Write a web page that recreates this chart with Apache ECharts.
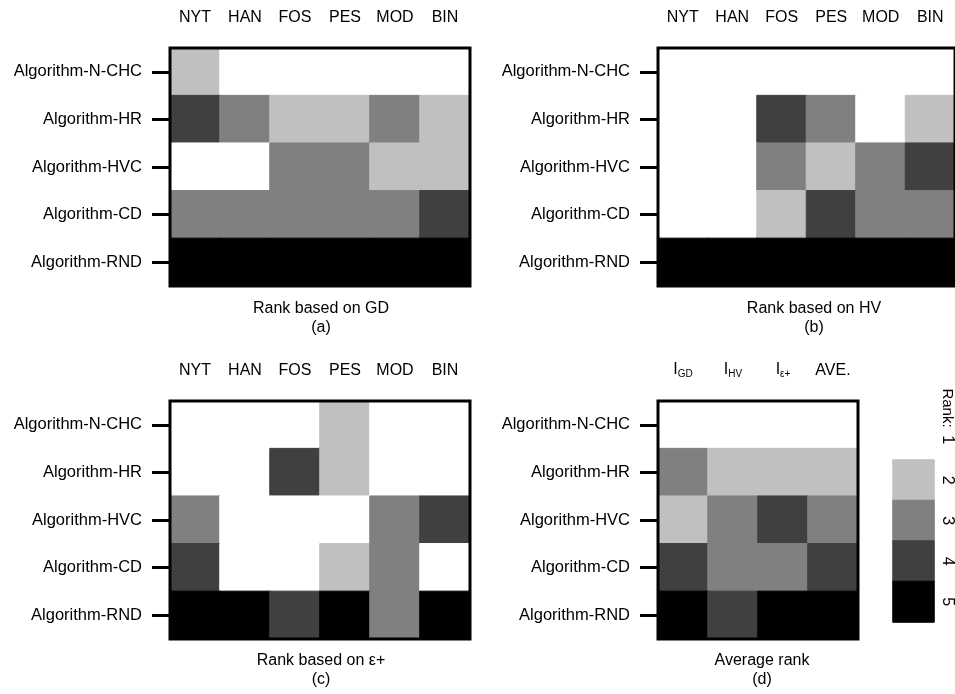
<!DOCTYPE html>
<html>
<head>
<meta charset="utf-8">
<script src="https://cdn.jsdelivr.net/npm/echarts@6/dist/echarts.min.js"></script>
<style>
  html, body { margin: 0; padding: 0; background: #fff; }
  #chart { width: 955px; height: 694px; }
</style>
</head>
<body>
<div id="chart"></div>
<script>
// categories
var algorithms = ['Algorithm-N-CHC', 'Algorithm-HR', 'Algorithm-HVC', 'Algorithm-CD', 'Algorithm-RND']
var problems = ['NYT', 'HAN', 'FOS', 'PES', 'MOD', 'BIN']
var indicators = ['I_GD', 'I_HV', 'I_ε+', 'AVE.']

// ranks, one row per algorithm, one column per problem / indicator
var rankGD = [
  [2, 1, 1, 1, 1, 1],
  [4, 3, 2, 2, 3, 2],
  [1, 1, 3, 3, 2, 2],
  [3, 3, 3, 3, 3, 4],
  [5, 5, 5, 5, 5, 5]
]
var rankHV = [
  [1, 1, 1, 1, 1, 1],
  [1, 1, 4, 3, 1, 2],
  [1, 1, 3, 2, 3, 4],
  [1, 1, 2, 4, 3, 3],
  [5, 5, 5, 5, 5, 5]
]
var rankEps = [
  [1, 1, 1, 2, 1, 1],
  [1, 1, 4, 2, 1, 1],
  [3, 1, 1, 1, 3, 4],
  [4, 1, 1, 2, 3, 1],
  [5, 5, 4, 5, 3, 5]
]
var rankAvg = [
  [1, 1, 1, 1],
  [3, 2, 2, 2],
  [2, 3, 4, 3],
  [4, 3, 3, 4],
  [5, 4, 5, 5]
]

// colour scale
var rankLevels = ['1', '2', '3', '4', '5']
var rankColors = ['#ffffff', '#c0c0c0', '#808080', '#404040', '#000000']

var font = 'Liberation Sans, Arial, sans-serif'

// one cell per value, coloured from the rank scale (border in the same colour hides seams)
function cell(x, y, v) {
  var c = rankColors[v - 1]
  return { value: [x, y, v], itemStyle: { color: c, borderColor: c, borderWidth: 1 } }
}

function toCells(rows) {
  var out = []
  rows.forEach(function (row, i) {
    row.forEach(function (v, j) {
      out.push(cell(j, i, v))
    })
  })
  return out
}

var panels = [
  { cols: problems, data: rankGD, left: 170, top: 48, width: 300, title: 'Rank based on GD', tag: '(a)', tx: 321, ty: 309 },
  { cols: problems, data: rankHV, left: 658, top: 48, width: 300, title: 'Rank based on HV', tag: '(b)', tx: 814, ty: 309 },
  { cols: problems, data: rankEps, left: 170, top: 401, width: 300, title: 'Rank based on ε+', tag: '(c)', tx: 321, ty: 661 },
  { cols: indicators, data: rankAvg, left: 658, top: 401, width: 200, title: 'Average rank', tag: '(d)', tx: 762, ty: 661 }
]

var grid = []
var xAxis = []
var yAxis = []
var series = []
var graphic = []

panels.forEach(function (p, k) {
  grid.push({
    left: p.left, top: p.top, width: p.width, height: 238,
    show: true, borderColor: '#000', borderWidth: 3,
    backgroundColor: 'transparent', z: 10
  })
  xAxis.push({
    type: 'category', gridIndex: k, position: 'top', data: p.cols,
    axisLine: { show: false }, axisTick: { show: false }, splitLine: { show: false },
    axisLabel: {
      interval: 0, color: '#000', fontSize: 16, fontFamily: font, margin: 22,
      formatter: function (v) {
        if (v.indexOf('I_') === 0) return '{i|I}{sub|' + v.slice(2) + '}'
        return v
      },
      rich: {
        i: { fontSize: 16, fontFamily: font, color: '#000', lineHeight: 18 },
        sub: { fontSize: 10, fontFamily: font, color: '#000', verticalAlign: 'bottom', lineHeight: 10 }
      }
    }
  })
  yAxis.push({
    type: 'category', gridIndex: k, data: algorithms, inverse: true,
    axisLine: { show: false },
    axisTick: { show: true, alignWithLabel: true, length: 18, lineStyle: { color: '#000', width: 3 } },
    splitLine: { show: false },
    axisLabel: { interval: 0, color: '#000', fontSize: 16.5, fontFamily: font, margin: 28 }
  })
  series.push({
    type: 'heatmap', xAxisIndex: k, yAxisIndex: k,
    data: toCells(p.data),
    emphasis: { disabled: true }
  })
  graphic.push({
    type: 'text', x: p.tx, y: p.ty,
    style: { text: p.title, fontSize: 16, fontFamily: font, fill: '#000', textAlign: 'center', textVerticalAlign: 'middle' }
  })
  graphic.push({
    type: 'text', x: p.tx, y: p.ty + 18.5,
    style: { text: p.tag, fontSize: 16, fontFamily: font, fill: '#000', textAlign: 'center', textVerticalAlign: 'middle' }
  })
})

// colour key as a one-column heatmap
grid.push({ left: 893, top: 419.5, width: 41, height: 202.5 })
xAxis.push({ type: 'category', gridIndex: 4, data: [''], show: false })
yAxis.push({
  type: 'category', gridIndex: 4, data: rankLevels, inverse: true, position: 'right',
  axisLine: { show: false }, axisTick: { show: false }, splitLine: { show: false },
  axisLabel: { interval: 0, color: '#000', fontSize: 16, fontFamily: font, margin: 5, rotate: -90 }
})
series.push({
  type: 'heatmap', xAxisIndex: 4, yAxisIndex: 4,
  data: rankLevels.map(function (r, i) { return cell(0, i, Number(r)) }),
  emphasis: { disabled: true }
})
graphic.push({
  type: 'text', x: 947, y: 408, rotation: -Math.PI / 2,
  style: { text: 'Rank:', fontSize: 15, fontFamily: font, fill: '#000', textAlign: 'center', textVerticalAlign: 'middle' }
})

var chart = echarts.init(document.getElementById('chart'))
chart.setOption({
  animation: false,
  backgroundColor: '#fff',
  grid: grid,
  xAxis: xAxis,
  yAxis: yAxis,
  series: series,
  graphic: graphic
})
</script>
</body>
</html>
